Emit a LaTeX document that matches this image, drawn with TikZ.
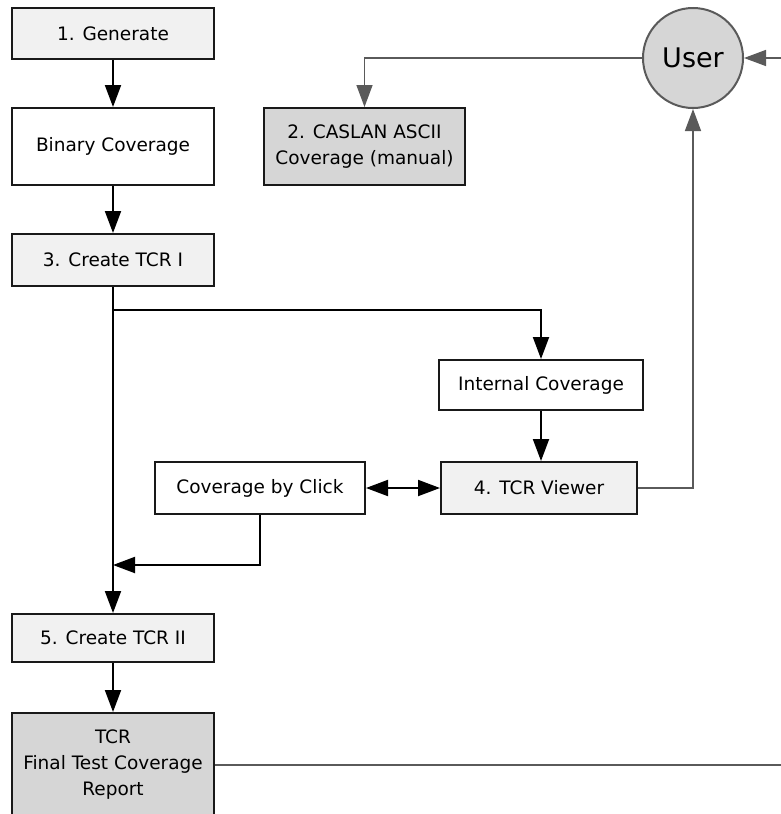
\documentclass[tikz,border=0pt]{standalone}
\usepackage{fontspec}
\setmainfont{DejaVu Sans}
\usetikzlibrary{arrows.meta, positioning, calc}

\definecolor{lightbox}{HTML}{F1F1F1}
\definecolor{darkbox}{HTML}{D6D6D6}
\definecolor{linegray}{HTML}{5A5A5A}

\begin{document}
\begin{tikzpicture}[x=1pt, y=-1pt,
    box/.style={draw=black!90, line width=2pt, fill=white, inner sep=0pt,
        align=center, font=\fontsize{18.5}{26}\selectfont},
    arr/.style={line width=2pt, -{Triangle[length=22pt,width=16pt]}},
    garr/.style={draw=linegray, line width=1.5pt, -{Triangle[length=22pt,width=16pt]}}]
    \useasboundingbox (0,0) rectangle (781,814);
    % Left column
    \node[box, fill=lightbox, minimum width=202pt, minimum height=51pt] (gen) at (113,33.5) {1. Generate};
    \node[box, minimum width=202pt, minimum height=77pt] (bincov) at (113,146.5) {Binary Coverage};
    \node[box, fill=lightbox, minimum width=202pt, minimum height=52pt] (tcri) at (113,260) {3. Create TCR I};
    \node[box, fill=lightbox, minimum width=202pt, minimum height=48pt] (tcrii) at (113,638) {5. Create TCR II};
    \node[box, fill=darkbox, minimum width=202pt, minimum height=104pt] (report) at (113,765) {TCR\\Final Test Coverage\\Report};
    % Right side
    \node[box, fill=darkbox, minimum width=201pt, minimum height=77pt] (caslan) at (364.5,146.5) {2. CASLAN ASCII\\Coverage (manual)};
    \node[circle, draw=linegray, line width=2pt, fill=darkbox, minimum size=100pt, inner sep=0pt,
        font=\fontsize{27}{30}\selectfont] (user) at (693,58) {User};
    \node[box, minimum width=204pt, minimum height=50pt] (intcov) at (541,385) {Internal Coverage};
    \node[box, fill=lightbox, minimum width=196pt, minimum height=52pt] (viewer) at (539,488) {4. TCR Viewer};
    \node[box, minimum width=210pt, minimum height=52pt] (click) at (260,488) {Coverage by Click};
    \coordinate (split) at (113,310);
    \coordinate (join) at (113,565);
    \coordinate (outer) at (800,765);
    % Connectors
    \draw[arr] (gen) -- (bincov);
    \draw[arr] (bincov) -- (tcri);
    \draw[arr] (tcri) -- (tcrii);
    \draw[arr] (tcrii) -- (report);
    \draw[arr] (split) -| (intcov.north);
    \draw[arr] (intcov) -- (intcov.south |- viewer.north);
    \draw[line width=2pt, {Triangle[length=22pt,width=16pt]}-{Triangle[length=22pt,width=16pt]}] (click) -- (viewer);
    \draw[arr] (click.south) |- (join);
    \draw[garr] (viewer.east) -| (user.south);
    \draw[garr] (user.west) -| (caslan.north);
    \draw[garr] (report.east) -- (outer) |- (user.east);
\end{tikzpicture}
\end{document}
